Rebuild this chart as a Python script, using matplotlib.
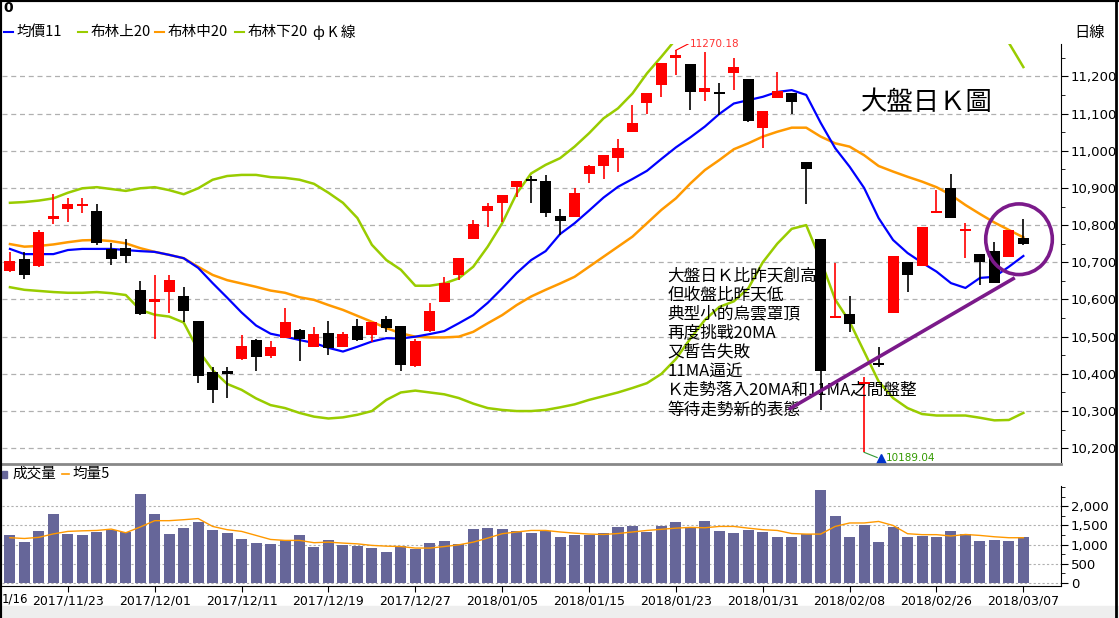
import matplotlib
matplotlib.use("Agg")
import matplotlib.pyplot as plt
from matplotlib.patches import Ellipse, Rectangle
from matplotlib.ticker import FuncFormatter, MultipleLocator
import numpy as np

CJK = ["Noto Sans CJK TC", "Noto Sans CJK JP", "Noto Sans CJK SC", "DejaVu Sans"]
plt.rcParams["font.family"] = ["DejaVu Sans", "Noto Sans CJK TC", "Noto Sans CJK JP"]

opens = [10677,10709,10690,10817,10842,10852,10838,10736,10739,10626,10594,10620,10610,10542,10405,10408,10440,10491,10448,10497,
         10518,10472,10510,10472,10529,10505,10548,10529,10421,10515,10594,10666,10763,10838,10860,10903,10924,10918,10825,10822,
         10937,10959,10980,11051,11129,11177,11249,11233,11158,11156,11209,11193,11061,11142,11155,10970,10763,10550,10561,10372,
         10429,10564,10701,10690,10833,10900,10784,10722,10731,10715,10766]
closes = [10703,10666,10781,10824,10857,10857,10753,10709,10717,10561,10601,10653,10569,10395,10357,10400,10475,10446,10472,10540,
          10494,10507,10470,10507,10491,10540,10524,10424,10489,10569,10645,10712,10804,10852,10881,10918,10918,10833,10812,10886,
          10959,10988,11007,11075,11155,11236,11258,11158,11169,11152,11225,11081,11107,11161,11131,10950,10408,10553,10534,10374,
          10424,10717,10666,10796,10838,10819,10787,10701,10645,10787,10750]
highs = [10728,10728,10787,10884,10873,10873,10857,10753,10762,10650,10666,10666,10634,10542,10419,10419,10505,10494,10489,10577,
         10521,10526,10542,10513,10548,10540,10556,10529,10494,10591,10661,10712,10814,10860,10881,10918,10932,10935,10844,10900,
         10962,10988,11031,11123,11155,11236,11270.18,11233,11265,11182,11250,11193,11107,11211,11155,10970,10763,10698,10610,10392,
         10472,10717,10701,10796,10894,10937,10806,10722,10755,10787,10817]
lows = [10675,10656,10688,10803,10808,10833,10746,10693,10698,10558,10494,10564,10540,10376,10322,10335,10437,10408,10443,10497,
        10435,10472,10451,10472,10489,10486,10513,10408,10419,10513,10594,10653,10763,10795,10809,10876,10860,10822,10774,10822,
        10913,10924,10943,11051,11099,11145,11204,11110,11134,11096,11164,11078,11008,11142,11099,10857,10303,10550,10513,10189.04,
        10419,10564,10620,10690,10833,10819,10712,10640,10645,10715,10747]

ma11 = [10736,10722,10722,10722,10733,10736,10736,10736,10733,10730,10728,10720,10711,10685,10644,10605,10565,10530,10508,10500,
        10491,10483,10470,10460,10473,10487,10496,10495,10500,10507,10515,10536,10558,10591,10630,10671,10706,10730,10776,10805,
        10839,10874,10903,10924,10946,10978,11009,11036,11065,11099,11127,11136,11145,11158,11163,11150,11075,11007,10957,10900,
        10819,10760,10725,10699,10675,10644,10631,10658,10661,10688,10717]
boll_mid = [10749,10742,10744,10748,10754,10759,10760,10757,10751,10738,10728,10720,10711,10688,10666,10652,10643,10634,10624,10618,
            10606,10599,10585,10572,10556,10540,10523,10509,10500,10498,10498,10500,10513,10536,10558,10585,10608,10626,10643,10661,
            10688,10715,10742,10769,10805,10841,10872,10912,10948,10975,11004,11020,11038,11051,11062,11062,11038,11020,11011,10988,
            10959,10944,10930,10917,10902,10881,10854,10830,10807,10787,10767]
boll_up = [10860,10862,10866,10872,10887,10899,10902,10897,10892,10899,10902,10894,10883,10899,10922,10932,10935,10935,10929,10927,
           10922,10911,10887,10860,10819,10747,10706,10680,10637,10637,10643,10657,10688,10742,10805,10885,10939,10962,10980,11011,
           11047,11087,11114,11154,11208,11253,11300,11340,11380,11410,11440,11460,11475,11490,11500,11505,11500,11480,11470,11460,
           11450,11430,11410,11390,11370,11350,11330,11320,11310,11290,11225]
boll_low = [10633,10626,10623,10620,10618,10618,10620,10617,10612,10572,10559,10554,10538,10464,10410,10373,10357,10334,10316,10308,
            10295,10285,10280,10283,10290,10300,10330,10350,10355,10350,10345,10335,10320,10308,10303,10300,10300,10303,10310,10318,
            10330,10340,10350,10362,10375,10400,10440,10495,10545,10580,10595,10630,10700,10750,10790,10800,10706,10600,10540,10460,
            10380,10335,10308,10292,10288,10288,10288,10282,10275,10276,10295]

volume = [1250,1065,1350,1800,1280,1250,1330,1370,1330,2320,1800,1280,1430,1590,1380,1300,1145,1040,1010,1120,
          1250,935,1120,990,960,910,800,960,880,1040,1090,1010,1400,1430,1400,1350,1300,1350,1200,1250,
          1250,1300,1460,1485,1330,1485,1590,1430,1615,1350,1300,1380,1330,1200,1200,1280,2430,1750,1200,1510,
          1065,1460,1200,1220,1200,1350,1280,1090,1120,1090,1200]
vol_ma5 = [1180,1160,1190,1280,1345,1360,1370,1405,1310,1460,1625,1625,1650,1680,1475,1390,1345,1240,1135,1110,
           1110,1050,1065,1040,1020,980,960,950,910,910,950,995,1065,1170,1285,1330,1370,1370,1330,1300,
           1275,1265,1290,1330,1370,1400,1430,1450,1440,1475,1475,1430,1390,1370,1290,1275,1275,1475,1565,1565,
           1605,1500,1285,1260,1260,1225,1265,1240,1205,1180,1180]

date_labels = ["2017/11/23","2017/12/01","2017/12/11","2017/12/19","2017/12/27","2018/01/05",
               "2018/01/15","2018/01/23","2018/01/31","2018/02/08","2018/02/26","2018/03/07"]
date_idx = [4,10,16,22,28,34,40,46,52,58,64,70]

notes = ["大盤日Ｋ比昨天創高","但收盤比昨天低","典型小的烏雲罩頂","再度挑戰20MA","又暫告失敗",
         "11MA逼近","Ｋ走勢落入20MA和11MA之間盤整","等待走勢新的表態"]

W, H = 1119, 618
fig = plt.figure(figsize=(W/100, H/100), dpi=100)
def rect(x0, y0, x1, y1):
    return [x0/W, 1-y1/H, (x1-x0)/W, (y1-y0)/H]

ax = fig.add_axes(rect(2, 44, 1061, 462))
axv = fig.add_axes(rect(2, 486, 1061, 586))

x = np.arange(len(opens))
o = np.array(opens); c = np.array(closes); hi = np.array(highs); lo = np.array(lows)
up = c >= o
cols = np.where(up, "#ff0000", "#000000")
ax.vlines(x, lo, hi, colors=cols, linewidth=1.2, zorder=3)
bott = np.minimum(o, c)
hgt = np.maximum(np.abs(c - o), 5)
ax.bar(x, hgt, bottom=bott, width=0.76, color=cols, zorder=4)

ax.plot(x, boll_up, color="#99cc00", lw=1.8, zorder=2)
ax.plot(x, boll_low, color="#99cc00", lw=1.8, zorder=2)
ax.plot(x, boll_mid, color="#ff9900", lw=1.8, zorder=2)
ax.plot(x, ma11, color="#0000ff", lw=1.6, zorder=2)

xl = (-0.55, 72.6)
ax.set_xlim(*xl)
ax.set_ylim(10163, 11287)
ax.yaxis.tick_right()
ax.yaxis.set_major_locator(MultipleLocator(100))
ax.yaxis.set_minor_locator(MultipleLocator(50))
ax.yaxis.set_major_formatter(FuncFormatter(lambda v, p: f"{int(v):,}"))
ax.tick_params(axis="y", labelsize=9.5, length=5, direction="out", pad=2)
ax.tick_params(axis="y", which="minor", length=3)
ax.set_xticks([])
ax.grid(axis="y", color="#b0b0b0", linestyle=(0, (4, 3)), lw=0.9)
for s in ["top", "left", "bottom"]:
    ax.spines[s].set_visible(False)

# annotations
imax = int(np.argmax(hi)); imin = int(np.argmin(lo))
ax.plot([imax, imax+0.9], [hi[imax], hi[imax]+18], color="#ff0000", lw=0.8)
ax.text(imax+0.95, hi[imax]+18, f"{hi[imax]:.2f}", color="#ff3333", fontsize=7.5, va="center")
ax.plot([imin, imin+0.9], [lo[imin], lo[imin]-14], color="#339933", lw=0.8)
ax.plot([imin+1.2], [lo[imin]-18], marker="^", color="#0033cc", ms=7, clip_on=False)
ax.text(imin+1.5, lo[imin]-16, f"{lo[imin]:.2f}", color="#339900", fontsize=7.5, va="center")

ax.text(58.8, 11130, "大盤日Ｋ圖", fontsize=19, fontfamily=CJK, va="center")
for k, t in enumerate(notes):
    ax.text(45.4, 10664 - k*51.5, t, fontsize=12, fontfamily=CJK, va="center")

ax.plot([53.9, 69.3], [10307, 10656], color="#7b1a8a", lw=2.6, zorder=5)
ax.add_patch(Ellipse((69.7, 10762), 4.6, 190, fill=False, edgecolor="#7b1a8a", lw=2.6, zorder=5))

# volume
axv.bar(x, volume, width=0.76, color="#666699", zorder=3)
axv.plot(x, vol_ma5, color="#ff9900", lw=1.0, zorder=4)
axv.set_xlim(*xl)
axv.set_ylim(-80, 2530)
axv.yaxis.tick_right()
axv.set_yticks([0, 500, 1000, 1500, 2000])
axv.yaxis.set_minor_locator(MultipleLocator(250))
axv.yaxis.set_major_formatter(FuncFormatter(lambda v, p: f"{int(v):,}"))
axv.tick_params(axis="y", labelsize=9.5, length=5, pad=2)
axv.tick_params(axis="y", which="minor", length=3)
axv.grid(axis="y", color="#b0b0b0", linestyle=(0, (2, 2)), lw=0.8)
axv.set_xticks(date_idx)
axv.set_xticklabels(date_labels, fontsize=9)
axv.tick_params(axis="x", length=4, pad=2)
for s in ["top", "left"]:
    axv.spines[s].set_visible(False)

# legends and frame text
fig.text(3/W, 1-8/H, "0", fontsize=10, fontweight="bold", va="center")
leg = [("#0000ff", "均價11", 4), ("#99cc00", "布林上20", 78), ("#ff9900", "布林中20", 155), ("#99cc00", "布林下20", 235)]
for col, t, px in leg:
    fig.lines.append(plt.Line2D([px/W, (px+9)/W], [1-32/H, 1-32/H], color=col, lw=1.5, transform=fig.transFigure))
    fig.text((px+13)/W, 1-32/H, t, fontsize=10.5, fontfamily=CJK, va="center")
fig.text(313/W, 1-32/H, "ф K 線", fontsize=10.5, fontfamily=CJK, va="center")
fig.text(1074/W, 1-32/H, "日線", fontsize=11, fontfamily=CJK, va="center")
fig.patches.append(Rectangle((2/W, 1-478/H), 5/W, 7/H, color="#666699", transform=fig.transFigure))
fig.text(12/W, 1-474/H, "成交量", fontsize=10.5, fontfamily=CJK, va="center")
fig.lines.append(plt.Line2D([62/W, 69/W], [1-474/H, 1-474/H], color="#ff9900", lw=1.2, transform=fig.transFigure))
fig.text(73/W, 1-474/H, "均量5", fontsize=10.5, fontfamily=CJK, va="center")
fig.text(2/W, 1-599/H, "1/16", fontsize=8.5, va="center")

fig.lines.append(plt.Line2D([0, 1061/W], [1-464/H, 1-464/H], color="#888888", lw=2, transform=fig.transFigure))
fig.patches.append(Rectangle((0, 0), 1, 12/H, color="#eeeeee", transform=fig.transFigure, zorder=0))
fig.lines.append(plt.Line2D([0, 0], [0, 1], color="black", lw=3, transform=fig.transFigure))
fig.lines.append(plt.Line2D([0, 1], [1, 1], color="black", lw=3, transform=fig.transFigure))
fig.lines.append(plt.Line2D([1116/W, 1116/W], [0, 1], color="black", lw=2, transform=fig.transFigure))

fig.savefig("out.png", dpi=100)
